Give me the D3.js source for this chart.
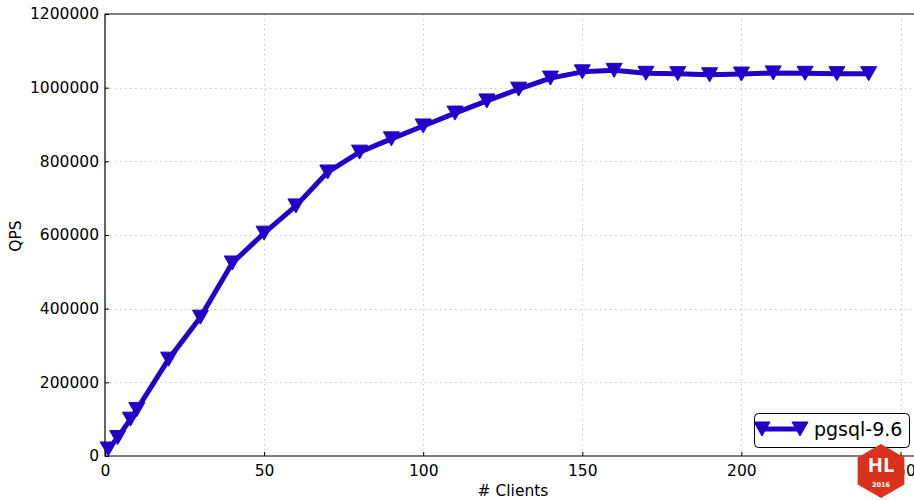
<!DOCTYPE html>
<html>
<head>
<meta charset="utf-8">
<script src="https://cdn.jsdelivr.net/npm/d3@7"></script>
<style>
  html, body { margin: 0; padding: 0; background: #fff; }
  svg { display: block; font-family: "DejaVu Sans", sans-serif; }
</style>
</head>
<body>
<svg id="chart" width="914" height="500"></svg>
<script>
// Throughput of pgsql-9.6 by number of concurrent clients
const clients = [1, 4, 8, 10, 20, 30, 40, 50, 60, 70, 80, 90, 100, 110, 120, 130, 140,
                 150, 160, 170, 180, 190, 200, 210, 220, 230, 240];
const qps = [19000, 50000, 100000, 126000, 263000, 377000, 524000, 605000, 679000, 771000,
             825000, 861000, 896000, 931000, 964000, 996000, 1026000,
             1043000, 1047000, 1039000, 1038000, 1035000, 1037000, 1040000, 1039000, 1038000, 1038000];
const xTicks = [0, 50, 100, 150, 200, 250];
const yTicks = [0, 200000, 400000, 600000, 800000, 1000000, 1200000];
const seriesName = "pgsql-9.6";

(function draw() {
  const svg = d3.select("#chart");
  const pl = 105, pt = 14, pb = 456, pr = 921;
  const x = d3.scaleLinear().domain([0, 250]).range([pl, 900.5]);
  const y = d3.scaleLinear().domain([0, 1200000]).range([pb, pt]);
  const lineColor = "#2200c8";
  const fs = 15.5;

  // grid
  const grid = svg.append("g").attr("stroke", "#c8c8c8").attr("stroke-dasharray", "1.5,3.5").attr("stroke-width", 1);
  grid.selectAll("line.v").data(xTicks.slice(1)).join("line").attr("class", "v")
    .attr("x1", d => Math.round(x(d)) + 0.5).attr("x2", d => Math.round(x(d)) + 0.5)
    .attr("y1", pt).attr("y2", pb);
  grid.selectAll("line.h").data(yTicks.slice(1, -1)).join("line").attr("class", "h")
    .attr("y1", d => Math.round(y(d)) + 0.5).attr("y2", d => Math.round(y(d)) + 0.5)
    .attr("x1", pl).attr("x2", pr);

  // axes with inward ticks
  const xAxis = d3.axisBottom(x).tickValues(xTicks).tickSize(-4).tickPadding(9).tickFormat(d3.format("d"));
  const yAxis = d3.axisLeft(y).tickValues(yTicks).tickSize(-4).tickPadding(6).tickFormat(d3.format("d"));
  const gx = svg.append("g").attr("transform", `translate(0,${pb})`).call(xAxis);
  const gy = svg.append("g").attr("transform", `translate(${pl},0)`).call(yAxis);
  [gx, gy].forEach(g => {
    g.select(".domain").remove();
    g.selectAll("line").attr("stroke", "#000");
    g.selectAll("text").attr("font-size", fs).attr("fill", "#000")
      .attr("font-family", "DejaVu Sans, sans-serif");
  });

  // frame
  svg.append("path")
    .attr("d", `M${pr},${pt}H${pl}V${pb}H${pr}`)
    .attr("fill", "none").attr("stroke", "#000").attr("stroke-width", 1.2);

  // axis titles, centred on the axes box
  svg.append("text").attr("x", (pl + pr) / 2).attr("y", 496).attr("text-anchor", "middle")
    .attr("font-size", fs).text("# Clients");
  svg.append("text").attr("transform", `translate(21,${(pt + pb) / 2 + 1}) rotate(-90)`).attr("text-anchor", "middle")
    .attr("font-size", fs).text("QPS");

  // series
  const pts = clients.map((c, i) => [c, qps[i]]);
  const line = d3.line().x(d => x(d[0])).y(d => y(d[1]));
  svg.append("path").datum(pts).attr("d", line)
    .attr("fill", "none").attr("stroke", lineColor).attr("stroke-width", 5)
    .attr("stroke-linejoin", "round");

  const tri = (cx, cy) => `M${cx - 8},${cy - 7}L${cx + 8},${cy - 7}L${cx},${cy + 7}Z`;
  svg.append("g").selectAll("path").data(pts).join("path")
    .attr("d", d => tri(x(d[0]), y(d[1])))
    .attr("fill", lineColor).attr("stroke", lineColor).attr("stroke-width", 1);

  // legend
  const lg = svg.append("g");
  lg.append("rect").attr("x", 754.5).attr("y", 413.5).attr("width", 155).attr("height", 34)
    .attr("rx", 4).attr("fill", "#fff").attr("stroke", "#000").attr("stroke-width", 1);
  lg.append("line").attr("x1", 762).attr("x2", 800).attr("y1", 429).attr("y2", 429)
    .attr("stroke", lineColor).attr("stroke-width", 5);
  [762, 800].forEach(cx => lg.append("path").attr("d", tri(cx, 429))
    .attr("fill", lineColor).attr("stroke", lineColor));
  lg.append("text").attr("x", 814).attr("y", 436).attr("font-size", 19).text(seriesName);

  // conference badge
  const bx = 881, by = 471, r = 27;
  const hex = d3.range(6).map(i => {
    const a = Math.PI / 3 * i - Math.PI / 2;
    return [bx + r * Math.cos(a), by + r * Math.sin(a)];
  });
  svg.append("polygon").attr("points", hex.map(p => p.join(",")).join(" "))
    .attr("fill", "#d8321c");
  svg.append("text").attr("x", bx).attr("y", 472).attr("text-anchor", "middle")
    .attr("font-size", 20).attr("font-weight", "bold").attr("fill", "#fff")
    .attr("font-family", "Open Sans, sans-serif").text("HL");
  svg.append("text").attr("x", bx).attr("y", 487).attr("text-anchor", "middle")
    .attr("font-size", 6.5).attr("font-weight", "bold").attr("fill", "#fff").text("2016");
})();
</script>
</body>
</html>
